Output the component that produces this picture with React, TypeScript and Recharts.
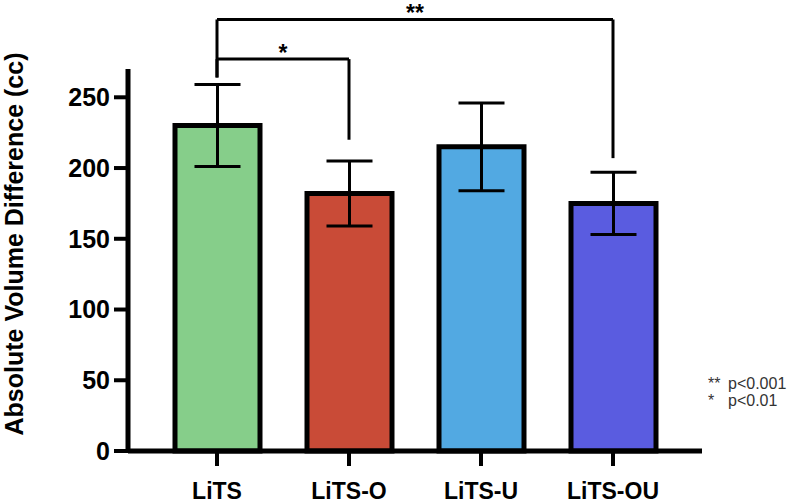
import React from 'react';
import { BarChart, Bar, XAxis, YAxis, ErrorBar, Cell, ReferenceLine } from 'recharts';

const categories = ['LiTS', 'LiTS-O', 'LiTS-U', 'LiTS-OU'];
const means = [230, 182, 215, 175];
const errors = [29, 23, 31, 22];
const barColors = ['#86CE8A', '#C94B37', '#52A9E2', '#5A5CE0'];
const yTicks = [0, 50, 100, 150, 200, 250];

const bracketFrom = ['LiTS', 'LiTS'];
const bracketTo = ['LiTS-O', 'LiTS-OU'];
const bracketTop = [277, 305];
const bracketFromEnd = [264, 264];
const bracketToEnd = [220, 207];
const bracketLabels = ['*', '**'];

const legendStars = ['**', '*'];
const legendTexts = ['p<0.001', 'p<0.01'];

const data = categories.map((c, i) => ({ name: c, value: means[i], err: errors[i] }));

const FONT = '"Liberation Sans", Arial, Helvetica, sans-serif';

const YLabel = () => (
  <text
    x={0}
    y={0}
    transform="translate(23 244) rotate(-90)"
    textAnchor="middle"
    fontFamily={FONT}
    fontWeight="bold"
    fontSize={25}
    fill="#000"
  >
    Absolute Volume Difference (cc)
  </text>
);

export default function App() {
  const lineStyle = { stroke: '#000', strokeWidth: 3 };
  return (
    <div style={{ position: 'absolute', left: 0, top: 0, width: 800, height: 504, background: '#fff', fontFamily: FONT }}>
      <BarChart
        width={800}
        height={504}
        data={data}
        margin={{ top: 69, right: 98, left: 28, bottom: 0 }}
        barCategoryGap={0}
      >
        <XAxis
          dataKey="name"
          padding={{ left: 23, right: 23 }}
          height={53}
          axisLine={{ stroke: '#000', strokeWidth: 5 }}
          tickLine={{ stroke: '#000', strokeWidth: 4 }}
          tickSize={15}
          tickMargin={17}
          tick={{ fill: '#000', fontSize: 23, fontWeight: 'bold', fontFamily: FONT }}
          interval={0}
        />
        <YAxis
          type="number"
          domain={[0, 270]}
          ticks={yTicks}
          width={100}
          axisLine={{ stroke: '#000', strokeWidth: 5 }}
          tickLine={{ stroke: '#000', strokeWidth: 4 }}
          tickSize={14}
          tickMargin={4}
          tick={{ fill: '#000', fontSize: 25, fontWeight: 'bold', fontFamily: FONT }}
          label={{ content: () => <YLabel /> }}
        />
        <Bar dataKey="value" barSize={85} stroke="#000" strokeWidth={5} isAnimationActive={false}>
          {data.map((d, i) => (
            <Cell key={d.name} fill={barColors[i]} />
          ))}
          <ErrorBar dataKey="err" width={23} stroke="#000" strokeWidth={3} direction="y" />
        </Bar>
        {bracketLabels.map((lab, i) => (
          <ReferenceLine
            key={'h' + i}
            segment={[
              { x: bracketFrom[i], y: bracketTop[i] },
              { x: bracketTo[i], y: bracketTop[i] },
            ]}
            ifOverflow="visible"
            {...lineStyle}
            label={{ value: lab, position: 'top', offset: -2, fontSize: 23, fontWeight: 'bold', fill: '#000', fontFamily: FONT }}
          />
        ))}
        {bracketLabels.map((lab, i) => (
          <ReferenceLine
            key={'l' + i}
            segment={[
              { x: bracketFrom[i], y: bracketTop[i] },
              { x: bracketFrom[i], y: bracketFromEnd[i] },
            ]}
            ifOverflow="visible"
            {...lineStyle}
          />
        ))}
        {bracketLabels.map((lab, i) => (
          <ReferenceLine
            key={'r' + i}
            segment={[
              { x: bracketTo[i], y: bracketTop[i] },
              { x: bracketTo[i], y: bracketToEnd[i] },
            ]}
            ifOverflow="visible"
            {...lineStyle}
          />
        ))}
      </BarChart>
      <div style={{ position: 'absolute', left: 708, top: 375, fontSize: 16, lineHeight: '17px', color: '#333', fontFamily: FONT }}>
        {legendTexts.map((t, i) => (
          <div key={t} style={{ whiteSpace: 'nowrap' }}>
            <span style={{ display: 'inline-block', width: 20 }}>{legendStars[i]}</span>
            {t}
          </div>
        ))}
      </div>
    </div>
  );
}
